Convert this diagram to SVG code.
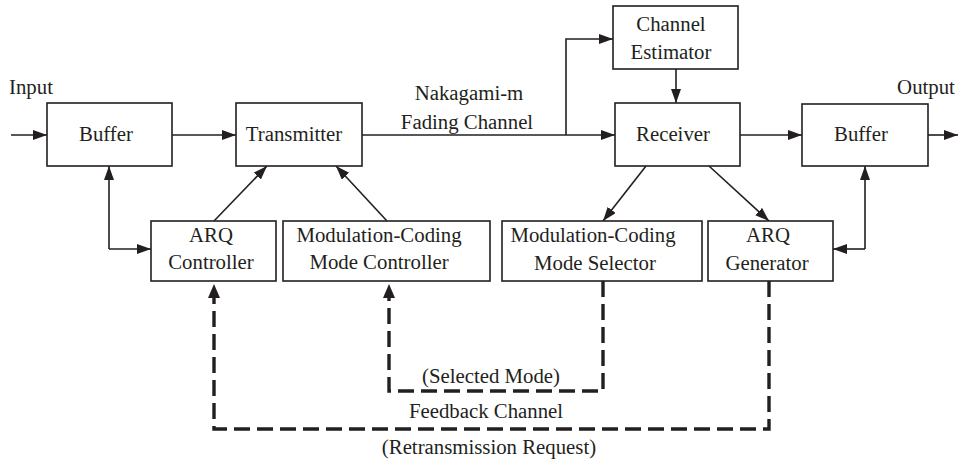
<svg xmlns="http://www.w3.org/2000/svg" width="959" height="462" viewBox="0 0 959 462">
  <style>
    .box { fill: #ffffff; stroke: #231f20; stroke-width: 1.6; }
    .lbl { font-family: "Liberation Serif", "Times New Roman", serif; font-size: 20.8px; fill: #231f20; text-anchor: middle; }
    .solid { fill: none; stroke: #231f20; stroke-width: 1.6; marker-end: url(#head); }
    .dash { fill: none; stroke: #231f20; stroke-width: 3.4; stroke-dasharray: 16 7; marker-end: url(#dhead); }
  </style>
  <defs>
    <marker id="head" markerUnits="userSpaceOnUse" markerWidth="15" markerHeight="11" refX="14" refY="5" orient="auto">
      <path d="M0,0 L14,5 L0,10 z" fill="#231f20"/>
    </marker>
    <marker id="dhead" markerUnits="userSpaceOnUse" markerWidth="15" markerHeight="13" refX="1" refY="6" orient="auto">
      <path d="M0,0 L14,6 L0,12 z" fill="#231f20"/>
    </marker>
  </defs>
  <rect width="959" height="462" fill="#ffffff"/>

  <!-- free-standing labels -->
  <text class="lbl" x="31" y="94">Input</text>
  <text class="lbl" x="926" y="94">Output</text>
  <text class="lbl" x="469" y="100">Nakagami-m</text>
  <text class="lbl" x="467" y="129">Fading Channel</text>
  <text class="lbl" x="491" y="383">(Selected Mode)</text>
  <text class="lbl" x="486" y="418">Feedback Channel</text>
  <text class="lbl" x="489" y="454">(Retransmission Request)</text>

  <!-- connectors -->
  <g id="connectors">
    <path class="solid" d="M11,135 H47"/>
    <path class="solid" d="M172,135 H236"/>
    <path class="solid" d="M362,135 H615"/>
    <path class="solid" d="M566,135 V39 H613"/>
    <path class="solid" d="M676,69 V103"/>
    <path class="solid" d="M740,135 H802"/>
    <path class="solid" d="M928,135 H958"/>
    <!-- buffer <-> ARQ controller -->
    <path class="solid" d="M109,249 V166"/>
    <path class="solid" d="M109,249 H151"/>
    <!-- buffer <-> ARQ generator -->
    <path class="solid" d="M865,249 V166"/>
    <path class="solid" d="M865,249 H833"/>
    <!-- controllers to transmitter -->
    <path class="solid" d="M214,221 L267,166"/>
    <path class="solid" d="M387,221 L336,166"/>
    <!-- receiver to selector / generator -->
    <path class="solid" d="M646,166 L603,221"/>
    <path class="solid" d="M709,166 L769,221"/>
    <!-- feedback channel -->
    <path class="dash" d="M603,281 V391 H389 V297"/>
    <path class="dash" d="M769,281 V429 H214 V297"/>
  </g>

  <!-- nodes -->
  <g id="buffer-in">
    <rect class="box" x="47" y="103" width="125" height="63"/>
    <text class="lbl" x="106" y="141">Buffer</text>
  </g>
  <g id="transmitter">
    <rect class="box" x="236" y="103" width="126" height="63"/>
    <text class="lbl" x="294" y="141">Transmitter</text>
  </g>
  <g id="channel-estimator">
    <rect class="box" x="613" y="6" width="125" height="63"/>
    <text class="lbl" x="671" y="31">Channel</text>
    <text class="lbl" x="671" y="59">Estimator</text>
  </g>
  <g id="receiver">
    <rect class="box" x="615" y="103" width="125" height="63"/>
    <text class="lbl" x="673" y="141">Receiver</text>
  </g>
  <g id="buffer-out">
    <rect class="box" x="802" y="104" width="126" height="62"/>
    <text class="lbl" x="861" y="141">Buffer</text>
  </g>
  <g id="arq-controller">
    <rect class="box" x="151" y="221" width="125" height="60"/>
    <text class="lbl" x="211" y="242">ARQ</text>
    <text class="lbl" x="211" y="269">Controller</text>
  </g>
  <g id="mode-controller">
    <rect class="box" x="283" y="221" width="207" height="60"/>
    <text class="lbl" x="379" y="242">Modulation-Coding</text>
    <text class="lbl" x="379" y="269">Mode Controller</text>
  </g>
  <g id="mode-selector">
    <rect class="box" x="502" y="221" width="200" height="60"/>
    <text class="lbl" x="593" y="242">Modulation-Coding</text>
    <text class="lbl" x="595" y="270">Mode Selector</text>
  </g>
  <g id="arq-generator">
    <rect class="box" x="708" y="221" width="125" height="60"/>
    <text class="lbl" x="768" y="242">ARQ</text>
    <text class="lbl" x="767" y="270">Generator</text>
  </g>
</svg>
